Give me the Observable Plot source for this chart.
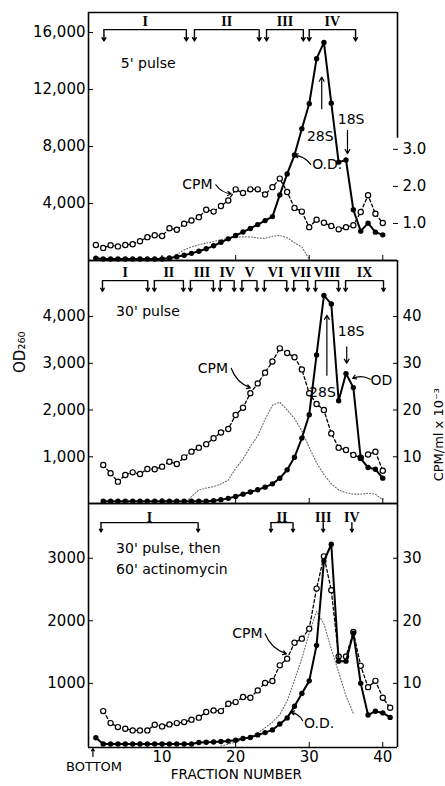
<!DOCTYPE html>
<html>
<head>
<meta charset="utf-8">
<script src="https://cdn.jsdelivr.net/npm/d3@7"></script>
<script src="https://cdn.jsdelivr.net/npm/@observablehq/plot@0.6"></script>
<style>
  html, body { margin: 0; padding: 0; background: #fff; }
  #chart { width: 445px; height: 786px; line-height: 0; }
  #chart svg { display: block; overflow: visible; }
</style>
</head>
<body>
<div id="chart"></div>
<script>
// ================= DATA =================
// ---- Top panel: 5' pulse ----
const fractions5 = d3.range(1, 41);
const od5 = [160, 100, 100, 100, 100, 100, 100, 100, 100, 110,
             180, 260, 370, 500, 650, 820, 1030, 1280, 1520, 1750,
             2000, 2250, 2520, 2800, 3080, 4600, 6070, 7400, 9250, 11000,
             14160, 15300, 11040, 6900, 7050, 3560, 2060, 2620, 1990, 1800];
const cpm5 = [0.42, 0.34, 0.41, 0.38, 0.42, 0.44, 0.52, 0.63, 0.68, 0.66,
              0.87, 0.83, 0.99, 1.08, 1.17, 1.37, 1.32, 1.47, 1.62, 1.92,
              1.82, 1.92, 1.92, 1.78, 1.98, 2.21, 1.85, 1.42, 1.32, 0.90,
              1.10, 1.02, 0.93, 0.84, 0.90, 0.95, 1.31, 1.76, 1.26, 1.01];
const dotFractions5 = d3.range(11, 31);
const dotted5 = [0, 400, 750, 950, 1100, 1220, 1330, 1450, 1550, 1620,
                 1660, 1660, 1580, 1550, 1700, 1760, 1600, 1250, 950, 100];
const leftTicks5 = [4000, 8000, 12000, 16000];
const rightTicks5 = [1, 2, 3];
const brackets5 = [
  {n: "I", a: 2.1, b: 13.3}, {n: "II", a: 14.4, b: 23.2},
  {n: "III", a: 24.2, b: 29.2}, {n: "IV", a: 30.0, b: 36.3}
];
const texts5 = [
  {t: "5' pulse", f: 4.4, v: 13830, anchor: "start"},
  {t: "28S", f: 31.5, v: 8700, anchor: "middle"},
  {t: "18S", f: 35.7, v: 9870, anchor: "middle"},
  {t: "O.D.", f: 30.4, v: 6740, anchor: "start"},
  {t: "CPM", f: 14.8, v: 5314, anchor: "middle"}
];
const pointers5 = [
  {f1: 31.7, v1: 10650, f2: 31.7, v2: 12870},
  {f1: 35.2, v1: 9130, f2: 35.2, v2: 7500}
];
const leaders5 = [
  {f1: 30.2, v1: 6740, f2: 28.0, v2: 7370},
  {f1: 17.3, v1: 5314, f2: 19.4, v2: 4680}
];

// ---- Middle panel: 30' pulse ----
const fractions30 = d3.range(2, 41);
const od30 = [50, 50, 50, 50, 50, 50, 50, 50, 50, 50, 50, 50, 50, 50, 50,
              60, 80, 110, 150, 200, 245, 295, 350, 420, 540, 720, 990, 1400,
              1900, 3180, 4450, 4270, 2200, 2780, 2480, 965, 770, 732, 543];
const cpm30 = [8.24, 6.46, 4.68, 6.1, 6.67, 6.3, 7.39, 7.32, 7.89, 8.95,
               8.46, 9.88, 11.1, 11.95, 12.7, 13.95, 15.2, 15.95, 18.95, 20.5,
               23.6, 25.7, 28.0, 30.4, 33.2, 32.2, 31.3, 28.7, 23.6, 21.3,
               20.0, 15.0, 11.95, 11.45, 10.4, 9.8, 10.5, 11.1, 7.0];
const dotFractions30 = d3.range(13, 41);
const dotted30 = [0, 150, 290, 330, 360, 420, 500, 750, 950, 1220,
                  1450, 1800, 2100, 2170, 2000, 1820, 1550, 1200, 870, 620,
                  420, 290, 230, 200, 200, 220, 200, 80];
const leftTicks30 = [1000, 2000, 3000, 4000];
const rightTicks30 = [10, 20, 30, 40];
const brackets30 = [
  {n: "I", a: 1.9, b: 8.05}, {n: "II", a: 8.95, b: 12.9}, {n: "III", a: 13.85, b: 16.98},
  {n: "IV", a: 17.9, b: 19.8}, {n: "V", a: 20.85, b: 22.9}, {n: "VI", a: 23.9, b: 26.95},
  {n: "VII", a: 27.9, b: 29.8}, {n: "VIII", a: 30.85, b: 33.99}, {n: "IX", a: 34.94, b: 40.1}
];
const texts30 = [
  {t: "30' pulse", f: 3.75, v: 4106, anchor: "start"},
  {t: "CPM", f: 16.9, v: 2894, anchor: "middle"},
  {t: "18S", f: 35.7, v: 3672, anchor: "middle"},
  {t: "28S", f: 31.8, v: 2372, anchor: "middle"},
  {t: "OD", f: 39.8, v: 2638, anchor: "middle"}
];
const pointers30 = [
  {f1: 35.1, v1: 3350, f2: 35.1, v2: 3000},
  {f1: 32.4, v1: 2745, f2: 32.4, v2: 4030}
];
const leaders30 = [
  {f1: 19.4, v1: 2894, f2: 22.0, v2: 2473},
  {f1: 38.3, v1: 2660, f2: 35.9, v2: 2680}
];

// ---- Bottom panel: 30' pulse, then 60' actinomycin ----
const odFractions60 = d3.range(1, 42);
const od60 = [130, 30, 30, 30, 30, 30, 30, 30, 30, 30, 30, 30, 30, 30,
              56, 60, 62, 70, 77, 90, 118, 136, 176, 213, 256, 350, 448, 635,
              840, 1040, 1608, 2955, 3224, 1355, 1355, 1800, 1000, 494, 555, 528, 456];
const cpmFractions60 = d3.range(2, 42);
const cpm60 = [5.57, 3.65, 3.01, 2.75, 2.48, 2.48, 2.48, 3.39, 3.12, 3.44,
               3.65, 3.81, 4.2, 4.52, 5.42, 5.68, 5.57, 6.75, 7.01, 7.81,
               7.71, 8.88, 10.05, 10.37, 12.88, 13.95, 16.5, 17.15, 18.75, 25.15,
               30.3, 24.9, 14.3, 14.3, 18.2, 12.8, 9.4, 10.4, 7.7, 6.1];
const dotFractions60 = d3.range(18, 37);
const dotted60 = [0, 30, 60, 100, 150, 210, 290, 380, 500, 720,
                  1050, 1400, 1800, 2150, 1950, 1550, 1180, 800, 520];
const leftTicks60 = [1000, 2000, 3000];
const rightTicks60 = [10, 20, 30];
const brackets60 = [
  {n: "I", a: 1.7, b: 14.9}, {n: "II", a: 24.8, b: 27.8},
  {n: "III", a: 31.9, b: 31.9}, {n: "IV", a: 35.8, b: 35.8}
];
const texts60 = [
  {t: "30' pulse, then", f: 3.75, v: 3150, anchor: "start"},
  {t: "60' actinomycin", f: 3.75, v: 2815, anchor: "start"},
  {t: "CPM", f: 21.6, v: 1797, anchor: "middle"},
  {t: "O.D.", f: 29.3, v: 363, anchor: "start"}
];
const pointers60 = [
  {f1: 0.6, v1: -169, f2: 0.6, v2: -41}
];
const leaders60 = [
  {f1: 24.0, v1: 1792, f2: 26.9, v2: 1472},
  {f1: 29.1, v1: 406, f2: 27.5, v2: 539}
];

const xTicks = [10, 20, 30, 40];
const yTitle = [{t: "OD\u2082\u2086\u2080", v: 2794}];
const yTitleRight = [{t: "CPM/ml x 10\u207B\u00B3", v: 2473}];
const bottomLabel = [{t: "BOTTOM", f: 0.75}];
const xTitle = [{t: "FRACTION NUMBER", f: 20.1}];

// ================= DRAWING =================
function makePanel(c) {
  const k = c.k;
  const odRows = c.odF.map((f, i) => ({f, v: c.od[i]}));
  const cpmRows = c.cpmF.map((f, i) => ({f, v: c.cpm[i] * k}));
  const dotRows = c.dotF.map((f, i) => ({f, v: c.dot[i]}));
  const [yMin, yMax] = c.yDomain;
  const ends = c.brackets.flatMap(b => b.a === b.b ? [b.a] : [b.a, b.b]);
  const xy = {x: "f", y: "v"};
  return Plot.plot({
    width: 445, height: c.height,
    marginLeft: 88, marginRight: 48, marginTop: c.marginTop, marginBottom: c.marginBottom,
    x: {domain: [0, 42], label: null},
    y: {domain: c.yDomain, label: null},
    style: {fontFamily: "'DejaVu Sans', sans-serif", fontSize: "15px", color: "#000", background: "#fff", overflow: "visible"},
    marks: [
      Plot.line(dotRows, {...xy, stroke: "#666", strokeWidth: 1.1, strokeDasharray: "1,2"}),
      Plot.line(cpmRows, {...xy, stroke: "#000", strokeWidth: 1.3, strokeDasharray: "3,2.5"}),
      Plot.dot(cpmRows, {...xy, r: 2.6, fill: "#fff", stroke: "#000", strokeWidth: 1.2}),
      Plot.line(odRows, {...xy, stroke: "#000", strokeWidth: 2}),
      Plot.dot(odRows, {...xy, r: 2.7, fill: "#000"}),
      Plot.ruleX([0], {strokeWidth: 1.6}),
      Plot.ruleY([yMin], {strokeWidth: 1.6}),
      Plot.ruleY([yMax], {strokeWidth: 1.6}),
      Plot.ruleX([42], {y1: c.rightBorderFrom ?? yMin, y2: yMax, strokeWidth: 1.6}),
      Plot.axisY(c.leftTicks, {anchor: "left", tickSize: -5, tickPadding: 8, tickFormat: c.leftFmt, label: null}),
      Plot.axisY(c.rightTicks.map(t => t * k), {anchor: "right", tickSize: -5, tickPadding: 10, tickFormat: d => c.rightFmt(d / k), label: null}),
      Plot.axisX(xTicks, {anchor: "bottom", tickSize: -5, tickPadding: 9, tickFormat: c.xLabels ? d3.format("d") : () => "", label: null}),
      Plot.ruleY(c.brackets.filter(b => b.b > b.a), {x1: "a", x2: "b", y: c.barV, strokeWidth: 1.3}),
      Plot.arrow(ends, {x1: d => d, x2: d => d, y1: c.barV, y2: c.tipV, headLength: 5, strokeWidth: 1.4}),
      Plot.text(c.brackets, {x: d => (d.a + d.b) / 2, y: c.numV, text: "n", fontFamily: "'Liberation Serif', serif", fontWeight: "bold", fontSize: 14}),
      Plot.text(c.texts.filter(d => d.anchor === "start"), {...xy, text: "t", textAnchor: "start", fontSize: 14}),
      Plot.text(c.texts.filter(d => d.anchor !== "start"), {...xy, text: "t", textAnchor: "middle", fontSize: 14}),
      Plot.arrow(c.pointers, {x1: "f1", y1: "v1", x2: "f2", y2: "v2", headLength: 6, strokeWidth: 1.2}),
      Plot.arrow(c.leaders, {x1: "f1", y1: "v1", x2: "f2", y2: "v2", bend: -25, headLength: 5, strokeWidth: 1.2}),
      ...(c.extra || [])
    ]
  });
}

const chart = document.getElementById("chart");

chart.appendChild(makePanel({
  height: 260, marginTop: 12, marginBottom: 0,
  yDomain: [0, 17400], k: 2600,
  odF: fractions5, od: od5, cpmF: fractions5, cpm: cpm5, dotF: dotFractions5, dot: dotted5,
  leftTicks: leftTicks5, leftFmt: d3.format(","), rightTicks: rightTicks5, rightFmt: d3.format(".1f"),
  rightBorderFrom: 3.3 * 2600,
  brackets: brackets5, barV: 16200, tipV: 15400, numV: 16750,
  texts: texts5, pointers: pointers5, leaders: leaders5, xLabels: false
}));

chart.appendChild(makePanel({
  height: 243, marginTop: 0, marginBottom: 0,
  yDomain: [0, 5200], k: 100,
  odF: fractions30, od: od30, cpmF: fractions30, cpm: cpm30, dotF: dotFractions30, dot: dotted30,
  leftTicks: leftTicks30, leftFmt: d3.format(","), rightTicks: rightTicks30, rightFmt: d3.format("d"),
  brackets: brackets30, barV: 4770, tipV: 4540, numV: 4945,
  texts: texts30, pointers: pointers30, leaders: leaders30, xLabels: false,
  extra: [
    Plot.text(yTitle, {y: "v", text: "t", frameAnchor: "left", dx: -68, rotate: -90, fontSize: 15}),
    Plot.text(yTitleRight, {y: "v", text: "t", frameAnchor: "right", dx: 41, rotate: -90, fontSize: 13})
  ]
}));

chart.appendChild(makePanel({
  height: 283, marginTop: 0, marginBottom: 39,
  yDomain: [-25, 3875], k: 100,
  odF: odFractions60, od: od60, cpmF: cpmFractions60, cpm: cpm60, dotF: dotFractions60, dot: dotted60,
  leftTicks: leftTicks60, leftFmt: d3.format("d"), rightTicks: rightTicks60, rightFmt: d3.format("d"),
  brackets: brackets60, barV: 3570, tipV: 3420, numV: 3655,
  texts: texts60, pointers: pointers60, leaders: leaders60, xLabels: true,
  extra: [
    Plot.text(bottomLabel, {x: "f", text: "t", frameAnchor: "bottom", dy: 23, fontSize: 13}),
    Plot.text(xTitle, {x: "f", text: "t", frameAnchor: "bottom", dy: 31, fontSize: 13.5})
  ]
}));
</script>
</body>
</html>
